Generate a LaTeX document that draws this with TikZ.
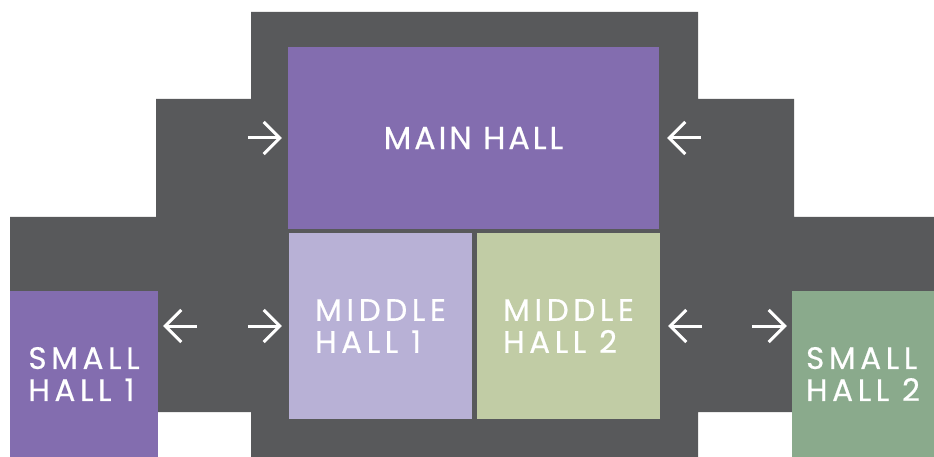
\documentclass[tikz,border=0pt]{standalone}
\usepackage{fontspec}
\setmainfont{Poppins}
\newfontfamily\hallfont[LetterSpace=15, FakeBold=0.5]{Poppins}
\newfontfamily\mainfont[LetterSpace=9, FakeBold=0.5]{Poppins}
\usetikzlibrary{arrows.meta}
\definecolor{floorgrey}{RGB}{88,89,91}
\definecolor{mainpurple}{RGB}{131,109,175}
\definecolor{lavender}{RGB}{184,177,214}
\definecolor{sage}{RGB}{193,204,165}
\definecolor{hallgreen}{RGB}{138,170,140}
\tikzset{
    hall/.style={rectangle, inner sep=0pt, text=white, align=left,
        font=\hallfont\fontsize{31}{32}\selectfont},
    arr/.style={white, line width=3pt, -{Straight Barb[length=16pt, width=32pt]}}
}
\begin{document}
\begin{tikzpicture}[x=1pt, y=-1pt]
                \useasboundingbox (0, 0) rectangle (934, 457);
                \fill[floorgrey] (251, 12) -- (698, 12) -- (698, 99) -- (794, 99) -- (794, 217) -- (934, 217)
                    -- (934, 412) -- (698, 412) -- (698, 457) -- (251, 457) -- (251, 412) -- (10, 412)
                    -- (10, 217) -- (156, 217) -- (156, 99) -- (251, 99) -- cycle;

                \node[hall, fill=mainpurple, minimum width=371, minimum height=182,
                    font=\mainfont\fontsize{32}{34}\selectfont] (main) at (473.5, 138) {MAIN HALL};
                \node[hall, fill=lavender, minimum width=183, minimum height=186] (mid1) at (380.5, 326) {MIDDLE\\HALL 1};
                \node[hall, fill=sage, minimum width=183, minimum height=186] (mid2) at (568.5, 326) {MIDDLE\\HALL 2};
                \node[hall, fill=mainpurple, minimum width=148, minimum height=166] (small1) at (84, 374) {SMALL\\HALL 1};
                \node[hall, fill=hallgreen, minimum width=142, minimum height=166] (small2) at (863, 374) {SMALL\\HALL 2};

                \draw[arr] ([xshift=-40pt]main.west) -- ([xshift=-6pt]main.west);
                \draw[arr] ([xshift=42pt]main.east) -- ([xshift=8pt]main.east);
                \draw[arr] ([xshift=39pt]small1.east |- mid1.west) -- ([xshift=5pt]small1.east |- mid1.west);
                \draw[arr] ([xshift=-41pt]mid1.west) -- ([xshift=-7pt]mid1.west);
                \draw[arr] ([xshift=42pt]mid2.east) -- ([xshift=8pt]mid2.east);
                \draw[arr] ([xshift=-40pt]small2.west |- mid2.east) -- ([xshift=-5pt]small2.west |- mid2.east);
            \end{tikzpicture}
\end{document}
